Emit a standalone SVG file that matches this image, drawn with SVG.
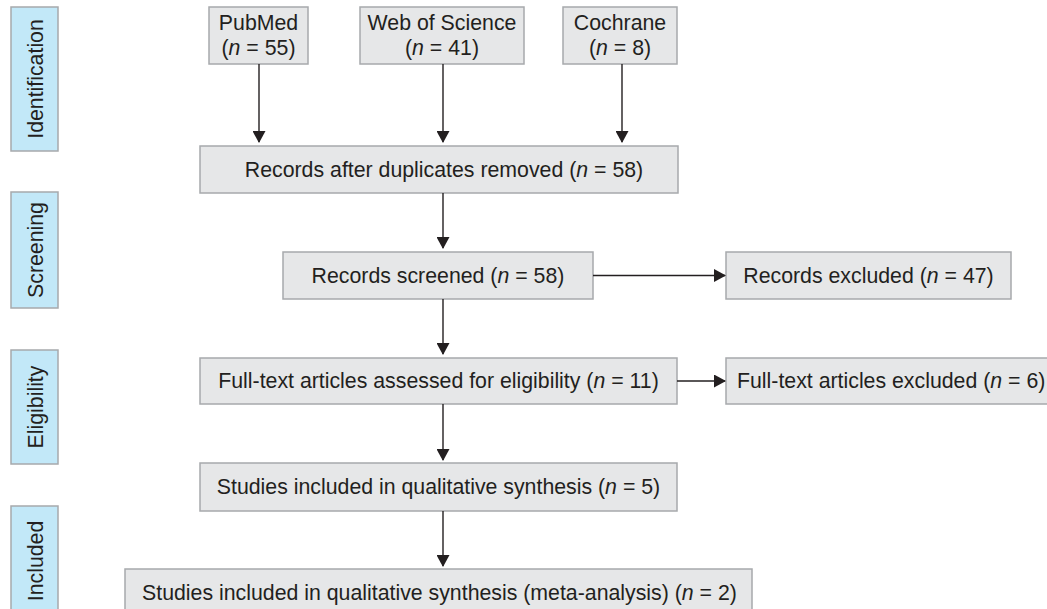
<svg xmlns="http://www.w3.org/2000/svg" width="1047" height="609" viewBox="0 0 1047 609">
<defs>
<style>
.box{fill:#e6e7e8;stroke:#a7a9ac;stroke-width:1.5}
.side{fill:#c2e8f8;stroke:#a7a9ac;stroke-width:1.5}
text{font-family:"Liberation Sans",Arial,sans-serif;font-size:21.3px;fill:#231f20;text-anchor:middle}
.conn{stroke:#231f20;stroke-width:1.4;fill:none}
</style>
<marker id="ah" markerUnits="userSpaceOnUse" markerWidth="12" markerHeight="13" refX="11" refY="6.5" orient="auto">
<path d="M0,0 L12,6.5 L0,13 z" fill="#231f20"/>
</marker>
</defs>
<rect width="1047" height="609" fill="#ffffff"/>

<g id="stage-identification">
<rect class="side" x="11" y="7" width="47" height="144"/>
<text transform="translate(43,79) rotate(-90)">Identification</text>
</g>
<g id="stage-screening">
<rect class="side" x="11" y="192" width="47" height="116"/>
<text transform="translate(43,250) rotate(-90)">Screening</text>
</g>
<g id="stage-eligibility">
<rect class="side" x="11" y="350" width="47" height="114"/>
<text transform="translate(43,407) rotate(-90)">Eligibility</text>
</g>
<g id="stage-included">
<rect class="side" x="11" y="506" width="47" height="112"/>
<text transform="translate(43,561) rotate(-90)">Included</text>
</g>

<g id="pubmed">
<rect class="box" x="209" y="7" width="99" height="57"/>
<text x="258.5" y="30">PubMed</text>
<text x="258.5" y="55">(<tspan font-style="italic">n</tspan> = 55)</text>
</g>
<g id="wos">
<rect class="box" x="360" y="7" width="164" height="57"/>
<text x="442" y="30">Web of Science</text>
<text x="442" y="55">(<tspan font-style="italic">n</tspan> = 41)</text>
</g>
<g id="cochrane">
<rect class="box" x="563" y="7" width="114" height="57"/>
<text x="620" y="30">Cochrane</text>
<text x="620" y="55">(<tspan font-style="italic">n</tspan> = 8)</text>
</g>
<g id="dedup">
<rect class="box" x="200" y="146" width="478" height="47"/>
<text x="444" y="177">Records after duplicates removed (<tspan font-style="italic">n</tspan> = 58)</text>
</g>
<g id="screened">
<rect class="box" x="283" y="252" width="310" height="47"/>
<text x="438" y="283">Records screened (<tspan font-style="italic">n</tspan> = 58)</text>
</g>
<g id="excluded">
<rect class="box" x="726" y="252" width="285" height="47"/>
<text x="868.5" y="283">Records excluded (<tspan font-style="italic">n</tspan> = 47)</text>
</g>
<g id="fulltext">
<rect class="box" x="200" y="358" width="477" height="46"/>
<text x="438.5" y="388">Full-text articles assessed for eligibility (<tspan font-style="italic">n</tspan> = 11)</text>
</g>
<g id="ft-excluded">
<rect class="box" x="726" y="358" width="340" height="46"/>
<text x="737" y="388" style="text-anchor:start">Full-text articles excluded (<tspan font-style="italic">n</tspan> = 6)</text>
</g>
<g id="qualitative">
<rect class="box" x="200" y="463" width="477" height="48"/>
<text x="438.5" y="494">Studies included in qualitative synthesis (<tspan font-style="italic">n</tspan> = 5)</text>
</g>
<g id="meta">
<rect class="box" x="125" y="569" width="627" height="48"/>
<text x="439.5" y="600">Studies included in qualitative synthesis (meta-analysis) (<tspan font-style="italic">n</tspan> = 2)</text>
</g>

<g id="connectors">
<line class="conn" x1="259" y1="64" x2="259" y2="142" marker-end="url(#ah)"/>
<line class="conn" x1="443" y1="64" x2="443" y2="142" marker-end="url(#ah)"/>
<line class="conn" x1="622" y1="64" x2="622" y2="142" marker-end="url(#ah)"/>
<line class="conn" x1="443" y1="193" x2="443" y2="248" marker-end="url(#ah)"/>
<line class="conn" x1="593" y1="275.5" x2="725" y2="275.5" marker-end="url(#ah)"/>
<line class="conn" x1="443" y1="299" x2="443" y2="354" marker-end="url(#ah)"/>
<line class="conn" x1="677" y1="381" x2="725" y2="381" marker-end="url(#ah)"/>
<line class="conn" x1="443" y1="404" x2="443" y2="460" marker-end="url(#ah)"/>
<line class="conn" x1="443" y1="511" x2="443" y2="566" marker-end="url(#ah)"/>
</g>
</svg>
